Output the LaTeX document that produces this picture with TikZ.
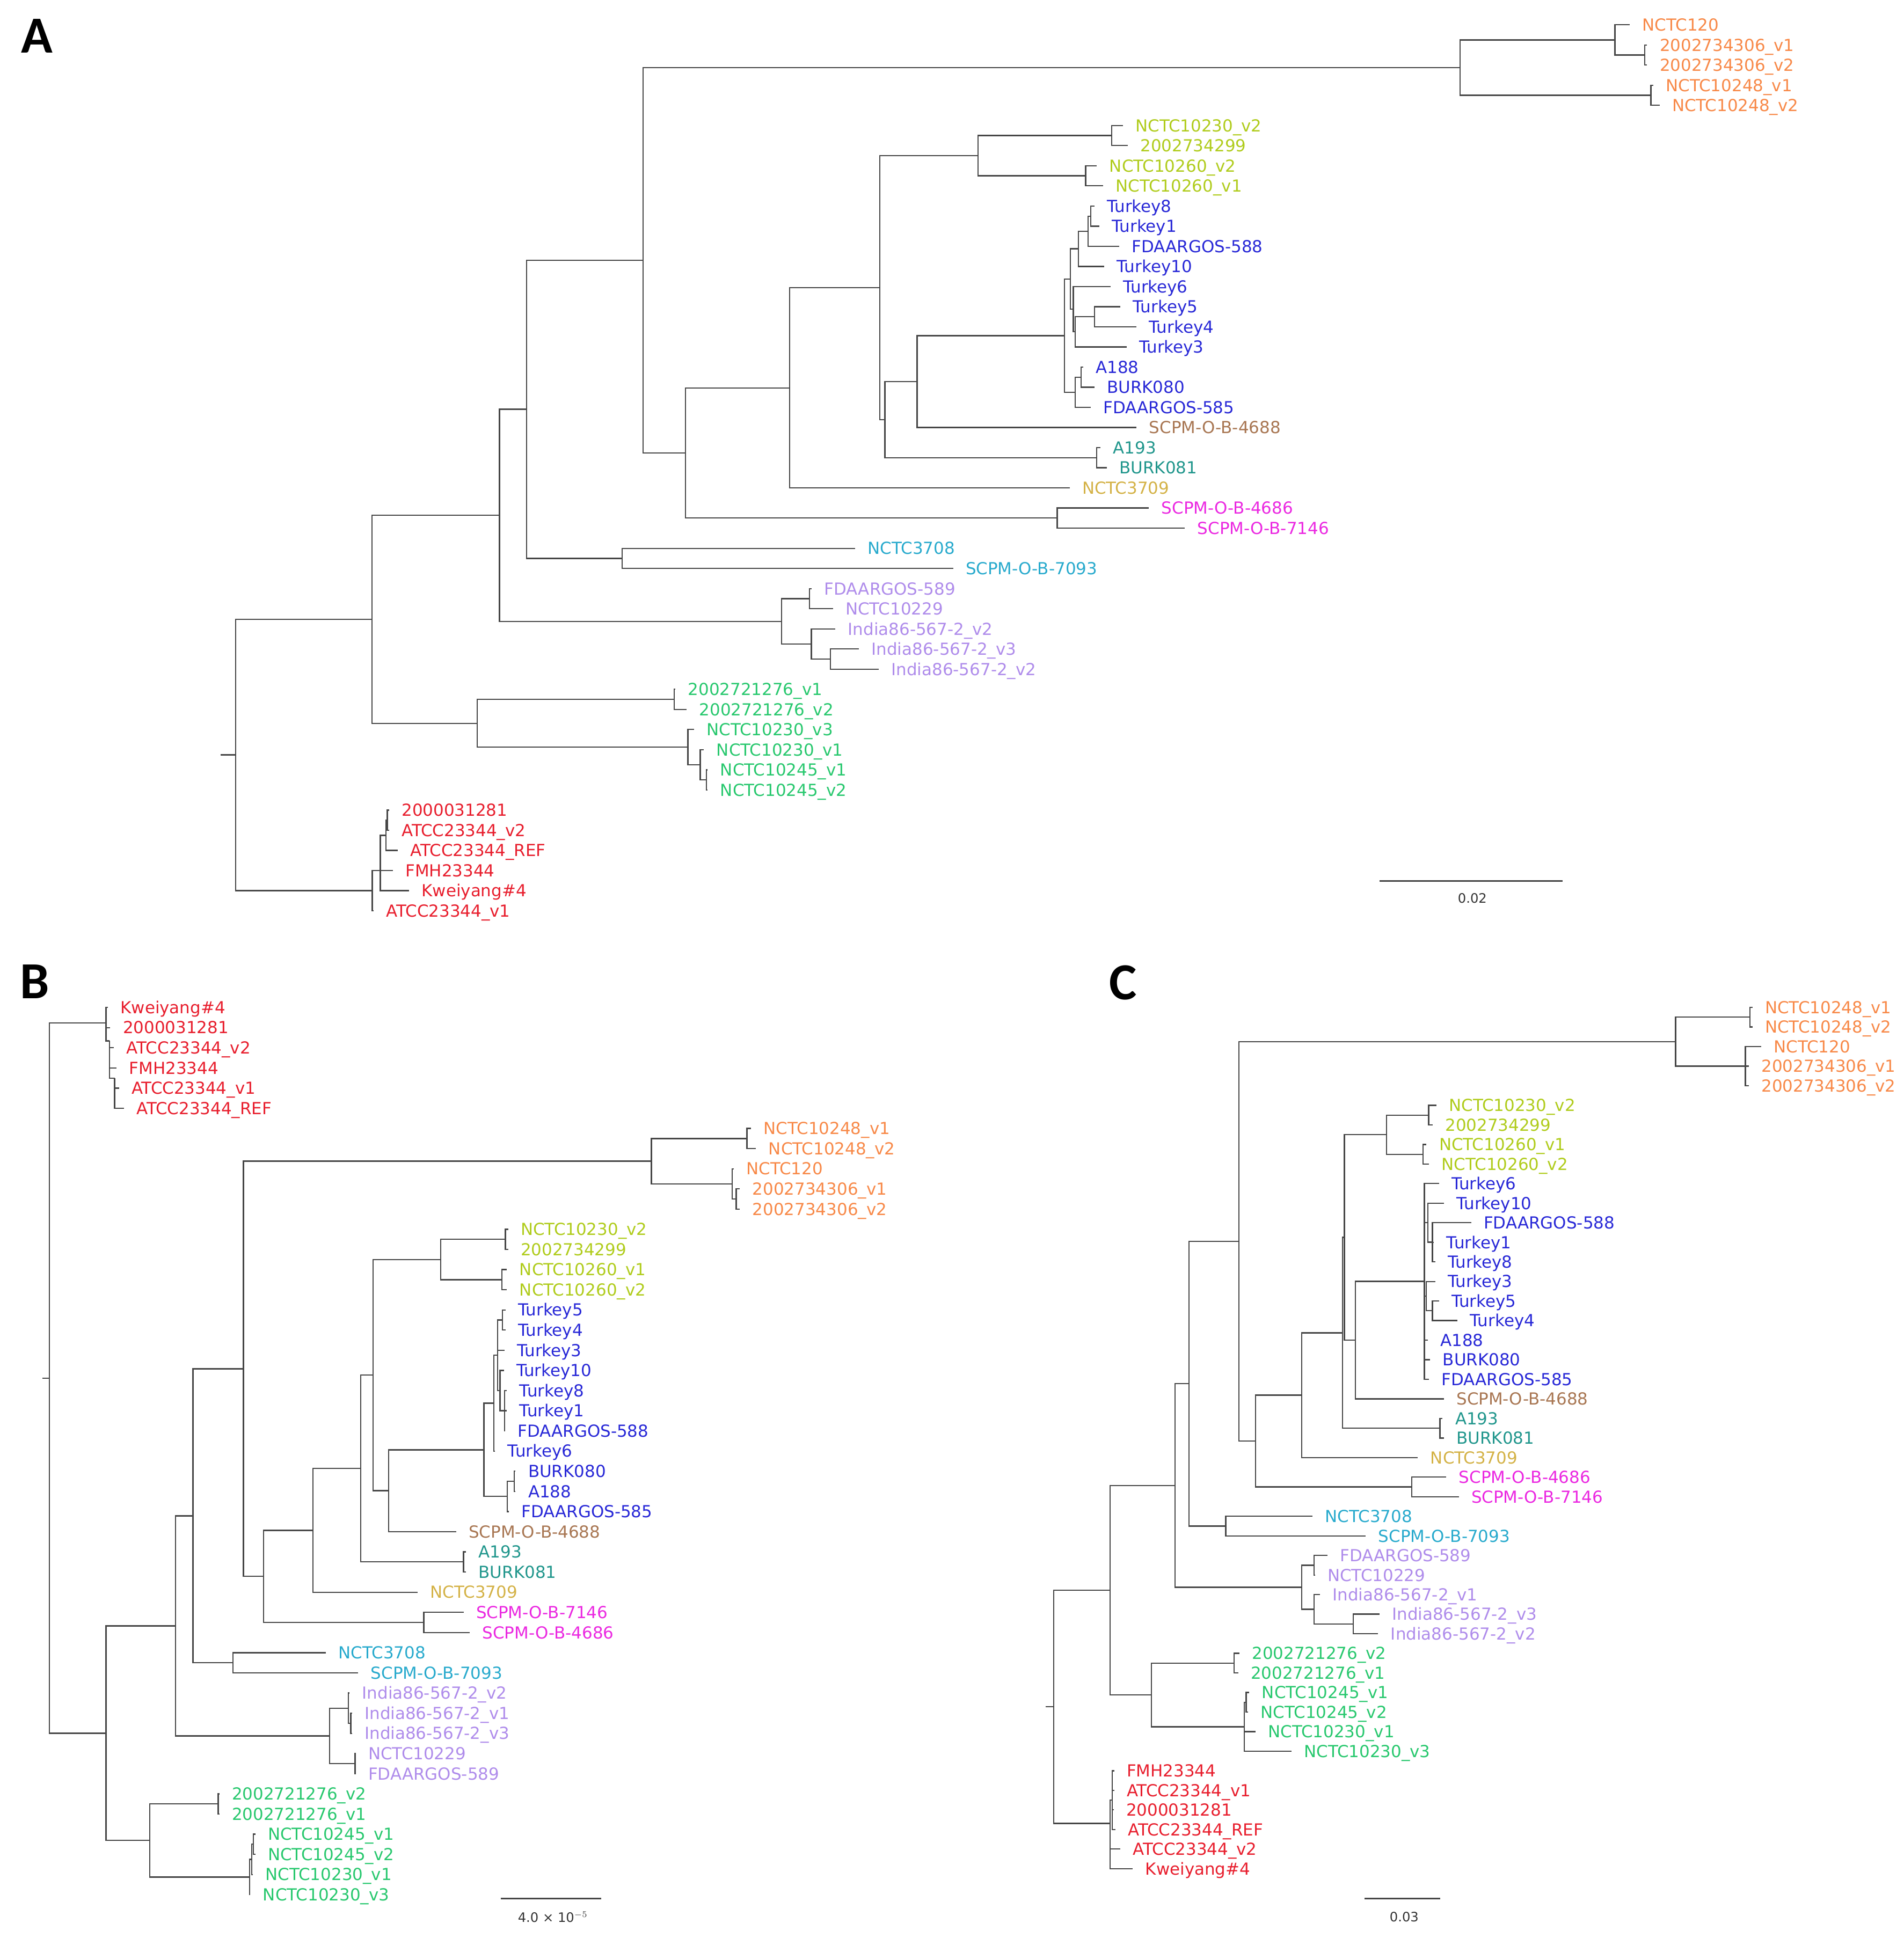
\documentclass[tikz,border=0pt]{standalone}
\usepackage{fontspec}
\setmainfont{DejaVu Sans}
\newfontfamily\panelfont{Carlito}

\definecolor{branchgray}{RGB}{70,70,70}
\definecolor{corange}{RGB}{248,137,72}
\definecolor{clime}{RGB}{176,204,28}
\definecolor{cblue}{RGB}{40,40,215}
\definecolor{cbrown}{RGB}{168,118,82}
\definecolor{cteal}{RGB}{32,150,140}
\definecolor{cgold}{RGB}{212,178,70}
\definecolor{cmagenta}{RGB}{235,40,225}
\definecolor{ccyan}{RGB}{40,170,205}
\definecolor{clav}{RGB}{175,140,235}
\definecolor{cgreen}{RGB}{40,200,110}
\definecolor{cred}{RGB}{232,30,45}

% tip coordinate + its label
\newcommand\leafat[5]{\coordinate (#1) at (#2,#3);
  \node[lab,text=#4] (#1l) at (#1) {#5};}
% elbow branches from a parent to its children
\newcommand\brto[2]{\foreach \ch in {#2}{\draw[branch] (#1) |- (\ch);}}

\begin{document}
\begin{tikzpicture}[x=1pt, y=-1pt,
    branch/.style={draw=branchgray, line width=1pt},
    lab/.style={anchor=base west, inner sep=0pt, xshift=10pt, yshift=-4.9pt, font=\fontsize{13.4}{16}\selectfont},
    panel/.style={font=\panelfont\bfseries\fontsize{42}{42}\selectfont, inner sep=0pt},
    sbar/.style={font=\fontsize{10.5}{12}\selectfont, inner sep=0pt, text=black!80}]
    \useasboundingbox[fill=white] (0,0) rectangle (1536,1564);

    % ---------------- A ----------------
    \node[panel] (pA) at (30,29) {A};
    \leafat{a1}{1315}{20}{corange}{NCTC120}
    \leafat{a2}{1329}{36.25}{corange}{2002734306\_v1}
    \leafat{a3}{1329}{52.5}{corange}{2002734306\_v2}
    \leafat{a4}{1334}{68.75}{corange}{NCTC10248\_v1}
    \leafat{a5}{1339}{85}{corange}{NCTC10248\_v2}
    \leafat{a6}{906}{101.25}{clime}{NCTC10230\_v2}
    \leafat{a7}{910}{117.5}{clime}{2002734299}
    \leafat{a8}{885}{133.75}{clime}{NCTC10260\_v2}
    \leafat{a9}{890}{150}{clime}{NCTC10260\_v1}
    \leafat{a10}{883}{166.25}{cblue}{Turkey8}
    \leafat{a11}{887}{182.5}{cblue}{Turkey1}
    \leafat{a12}{903}{198.75}{cblue}{FDAARGOS-588}
    \leafat{a13}{891}{215}{cblue}{Turkey10}
    \leafat{a14}{896}{231.25}{cblue}{Turkey6}
    \leafat{a15}{904}{247.5}{cblue}{Turkey5}
    \leafat{a16}{917}{263.75}{cblue}{Turkey4}
    \leafat{a17}{909}{280}{cblue}{Turkey3}
    \leafat{a18}{874}{296.25}{cblue}{A188}
    \leafat{a19}{883}{312.5}{cblue}{BURK080}
    \leafat{a20}{880}{328.75}{cblue}{FDAARGOS-585}
    \leafat{a21}{917}{345}{cbrown}{SCPM-O-B-4688}
    \leafat{a22}{888}{361.25}{cteal}{A193}
    \leafat{a23}{893}{377.5}{cteal}{BURK081}
    \leafat{a24}{863}{393.75}{cgold}{NCTC3709}
    \leafat{a25}{927}{410}{cmagenta}{SCPM-O-B-4686}
    \leafat{a26}{956}{426.25}{cmagenta}{SCPM-O-B-7146}
    \leafat{a27}{690}{442.5}{ccyan}{NCTC3708}
    \leafat{a28}{769}{458.75}{ccyan}{SCPM-O-B-7093}
    \leafat{a29}{655}{475}{clav}{FDAARGOS-589}
    \leafat{a30}{672}{491.25}{clav}{NCTC10229}
    \leafat{a31}{674}{507.5}{clav}{India86-567-2\_v2}
    \leafat{a32}{693}{523.75}{clav}{India86-567-2\_v3}
    \leafat{a33}{709}{540}{clav}{India86-567-2\_v2}
    \leafat{a34}{545}{556.25}{cgreen}{2002721276\_v1}
    \leafat{a35}{554}{572.5}{cgreen}{2002721276\_v2}
    \leafat{a36}{560}{588.75}{cgreen}{NCTC10230\_v3}
    \leafat{a37}{568}{605}{cgreen}{NCTC10230\_v1}
    \leafat{a38}{571}{621.25}{cgreen}{NCTC10245\_v1}
    \leafat{a39}{571}{637.5}{cgreen}{NCTC10245\_v2}
    \leafat{a40}{314}{653.75}{cred}{2000031281}
    \leafat{a41}{314}{670}{cred}{ATCC23344\_v2}
    \leafat{a42}{321}{686.25}{cred}{ATCC23344\_REF}
    \leafat{a43}{317}{702.5}{cred}{FMH23344}
    \leafat{a44}{330}{718.75}{cred}{Kweiyang\#4}
    \leafat{a45}{301.5}{735}{cred}{ATCC23344\_v1}

    \coordinate (aOr3) at (1327,44.4);   \coordinate (aOr1) at (1303,32.2);
    \coordinate (aOr2) at (1332,76.9);   \coordinate (aOr) at (1178,54.5);
    \coordinate (aY1) at (897,109.4);    \coordinate (aY2) at (876,141.9);
    \coordinate (aY) at (789,125.6);
    \coordinate (aB6) at (880,174.4);    \coordinate (aB5) at (878,186.6);
    \coordinate (aB3) at (870,200.8);    \coordinate (aB8) at (883,255.6);
    \coordinate (aB7) at (867.6,267.8);  \coordinate (aB4) at (866,249.5);
    \coordinate (aB1) at (863.5,225.2);  \coordinate (aB9) at (872.4,304.4);
    \coordinate (aB2) at (867.6,316.6);  \coordinate (aB) at (859,270.9);
    \coordinate (aT) at (885,369.4);     \coordinate (aN10) at (740,307.9);
    \coordinate (aN9) at (714,338.7);    \coordinate (aN8) at (710,232.1);
    \coordinate (aN7) at (637,313);      \coordinate (aM) at (853,418.1);
    \coordinate (aN6) at (553,365.5);    \coordinate (aN5) at (519,210);
    \coordinate (aC) at (502,450.6);     \coordinate (aN4) at (425,330.3);
    \coordinate (aL1) at (653,483.1);    \coordinate (aL3) at (670,531.9);
    \coordinate (aL2) at (654.6,519.7);  \coordinate (aL) at (630.6,501.4);
    \coordinate (aN3) at (403,415.9);
    \coordinate (aG1) at (544,564.4);    \coordinate (aG4) at (570,629.4);
    \coordinate (aG3) at (565,617.2);    \coordinate (aG2) at (555,603);
    \coordinate (aG) at (385,583.7);     \coordinate (aN2) at (300,499.8);
    \coordinate (aR4) at (312.5,661.9);  \coordinate (aR3) at (311.5,674.1);
    \coordinate (aR2) at (306.8,702.4);  \coordinate (aR) at (300.3,718.7);
    \coordinate (aN1) at (190,609.2);    \coordinate (aN0) at (178,609.2);

    \brto{aOr3}{a2,a3}  \brto{aOr1}{a1,aOr3}  \brto{aOr2}{a4,a5}  \brto{aOr}{aOr1,aOr2}
    \brto{aY1}{a6,a7}  \brto{aY2}{a8,a9}  \brto{aY}{aY1,aY2}
    \brto{aB6}{a10,a11}  \brto{aB5}{aB6,a12}  \brto{aB3}{aB5,a13}
    \brto{aB8}{a15,a16}  \brto{aB7}{aB8,a17}  \brto{aB4}{a14,aB7}  \brto{aB1}{aB3,aB4}
    \brto{aB9}{a18,a19}  \brto{aB2}{aB9,a20}  \brto{aB}{aB1,aB2}
    \brto{aT}{a22,a23}  \brto{aN10}{aB,a21}  \brto{aN9}{aN10,aT}  \brto{aN8}{aY,aN9}
    \brto{aN7}{aN8,a24}  \brto{aM}{a25,a26}  \brto{aN6}{aN7,aM}  \brto{aN5}{aOr,aN6}
    \brto{aC}{a27,a28}  \brto{aN4}{aN5,aC}
    \brto{aL1}{a29,a30}  \brto{aL3}{a32,a33}  \brto{aL2}{a31,aL3}  \brto{aL}{aL1,aL2}
    \brto{aN3}{aN4,aL}
    \brto{aG1}{a34,a35}  \brto{aG4}{a38,a39}  \brto{aG3}{a37,aG4}  \brto{aG2}{a36,aG3}
    \brto{aG}{aG1,aG2}  \brto{aN2}{aN3,aG}
    \brto{aR4}{a40,a41}  \brto{aR3}{aR4,a42}  \brto{aR2}{aR3,a43,a44}  \brto{aR}{aR2,a45}
    \brto{aN1}{aN2,aR}
    \draw[branch] (aN0) -- (aN1);

    \coordinate (asb1) at (1113,711);  \coordinate (asb2) at (1261,711);
    \draw[branch, line width=1.3pt] (asb1) -- (asb2);
    \node[sbar] (asbl) at (1188,725) {0.02};

    % ---------------- B ----------------
    \node[panel] (pB) at (28,792) {B};
    \leafat{b1}{87}{813}{cred}{Kweiyang\#4}
    \leafat{b2}{89}{829.27}{cred}{2000031281}
    \leafat{b3}{92}{845.55}{cred}{ATCC23344\_v2}
    \leafat{b4}{94}{861.82}{cred}{FMH23344}
    \leafat{b5}{96}{878.09}{cred}{ATCC23344\_v1}
    \leafat{b6}{100}{894.36}{cred}{ATCC23344\_REF}
    \leafat{b7}{606}{910.64}{corange}{NCTC10248\_v1}
    \leafat{b8}{610}{926.91}{corange}{NCTC10248\_v2}
    \leafat{b9}{592}{943.18}{corange}{NCTC120}
    \leafat{b10}{597}{959.45}{corange}{2002734306\_v1}
    \leafat{b11}{597}{975.73}{corange}{2002734306\_v2}
    \leafat{b12}{410}{992}{clime}{NCTC10230\_v2}
    \leafat{b13}{410}{1008.27}{clime}{2002734299}
    \leafat{b14}{409}{1024.55}{clime}{NCTC10260\_v1}
    \leafat{b15}{409}{1040.82}{clime}{NCTC10260\_v2}
    \leafat{b16}{408}{1057.09}{cblue}{Turkey5}
    \leafat{b17}{408}{1073.36}{cblue}{Turkey4}
    \leafat{b18}{407}{1089.64}{cblue}{Turkey3}
    \leafat{b19}{406.5}{1105.91}{cblue}{Turkey10}
    \leafat{b20}{409}{1122.18}{cblue}{Turkey8}
    \leafat{b21}{409}{1138.45}{cblue}{Turkey1}
    \leafat{b22}{407.5}{1154.73}{cblue}{FDAARGOS-588}
    \leafat{b23}{399.5}{1171}{cblue}{Turkey6}
    \leafat{b24}{416}{1187.27}{cblue}{BURK080}
    \leafat{b25}{416}{1203.55}{cblue}{A188}
    \leafat{b26}{410.5}{1219.82}{cblue}{FDAARGOS-585}
    \leafat{b27}{368}{1236.09}{cbrown}{SCPM-O-B-4688}
    \leafat{b28}{376}{1252.36}{cteal}{A193}
    \leafat{b29}{376}{1268.64}{cteal}{BURK081}
    \leafat{b30}{337}{1284.91}{cgold}{NCTC3709}
    \leafat{b31}{374}{1301.18}{cmagenta}{SCPM-O-B-7146}
    \leafat{b32}{379}{1317.45}{cmagenta}{SCPM-O-B-4686}
    \leafat{b33}{263}{1333.73}{ccyan}{NCTC3708}
    \leafat{b34}{289}{1350}{ccyan}{SCPM-O-B-7093}
    \leafat{b35}{282}{1366.27}{clav}{India86-567-2\_v2}
    \leafat{b36}{284}{1382.55}{clav}{India86-567-2\_v1}
    \leafat{b37}{284}{1398.82}{clav}{India86-567-2\_v3}
    \leafat{b38}{287}{1415.09}{clav}{NCTC10229}
    \leafat{b39}{287}{1431.36}{clav}{FDAARGOS-589}
    \leafat{b40}{177}{1447.64}{cgreen}{2002721276\_v2}
    \leafat{b41}{177}{1463.91}{cgreen}{2002721276\_v1}
    \leafat{b42}{206}{1480.18}{cgreen}{NCTC10245\_v1}
    \leafat{b43}{206}{1496.45}{cgreen}{NCTC10245\_v2}
    \leafat{b44}{204}{1512.73}{cgreen}{NCTC10230\_v1}
    \leafat{b45}{202}{1529}{cgreen}{NCTC10230\_v3}

    \coordinate (bR1) at (85.5,825.6);   \coordinate (bR2) at (88.5,840);
    \coordinate (bR3) at (92.5,870);
    \coordinate (bOr1) at (602.7,918.8); \coordinate (bOr3) at (594,967.6);
    \coordinate (bOr2) at (590.8,955.4); \coordinate (bOr) at (525.6,937.1);
    \coordinate (bY1) at (407.8,1000.1); \coordinate (bY2) at (405,1032.7);
    \coordinate (bY) at (355.6,1016.4);
    \coordinate (bB3) at (405.4,1065.2); \coordinate (bB7) at (407,1138.5);
    \coordinate (bB4) at (403.5,1122.2); \coordinate (bB2) at (401.4,1093.7);
    \coordinate (bB1) at (398.5,1132.4); \coordinate (bB6) at (415,1195.4);
    \coordinate (bB5) at (409.3,1207.6); \coordinate (bB) at (390.4,1170);
    \coordinate (bT) at (374,1260.5);    \coordinate (bM) at (342,1309.3);
    \coordinate (bC) at (188,1341.9);
    \coordinate (bL3) at (283,1390.7);   \coordinate (bL1) at (281,1378.5);
    \coordinate (bL2) at (286.5,1423.2); \coordinate (bL) at (266,1400.9);
    \coordinate (bG1) at (176,1455.8);   \coordinate (bG3) at (204.5,1488.3);
    \coordinate (bG5) at (203,1500.5);   \coordinate (bG2) at (201.4,1514.8);
    \coordinate (bG) at (120.8,1485.3);
    \coordinate (bN9) at (313.5,1203);   \coordinate (bN8) at (301,1109.7);
    \coordinate (bN7) at (291,1185.1);   \coordinate (bN6) at (252.6,1235);
    \coordinate (bN5) at (212.8,1272.2); \coordinate (bN4) at (196.4,1104.6);
    \coordinate (bN3) at (155.7,1223.3); \coordinate (bN2) at (141.7,1312.1);
    \coordinate (bN1) at (85.5,1398.7);  \coordinate (bN0) at (39.8,1112.2);
    \coordinate (bS) at (34,1112.2);

    \brto{bR3}{b5,b6}  \brto{bR2}{b3,b4,bR3}  \brto{bR1}{b1,b2,bR2}
    \brto{bOr1}{b7,b8}  \brto{bOr3}{b10,b11}  \brto{bOr2}{b9,bOr3}  \brto{bOr}{bOr1,bOr2}
    \brto{bY1}{b12,b13}  \brto{bY2}{b14,b15}  \brto{bY}{bY1,bY2}
    \brto{bB3}{b16,b17}  \brto{bB7}{b20,b21,b22}  \brto{bB4}{b19,bB7}
    \brto{bB2}{bB3,b18,bB4}  \brto{bB1}{bB2,b23}
    \brto{bB6}{b24,b25}  \brto{bB5}{bB6,b26}  \brto{bB}{bB1,bB5}
    \brto{bT}{b28,b29}  \brto{bM}{b31,b32}  \brto{bC}{b33,b34}
    \brto{bL3}{b36,b37}  \brto{bL1}{b35,bL3}  \brto{bL2}{b38,b39}  \brto{bL}{bL1,bL2}
    \brto{bG1}{b40,b41}  \brto{bG3}{b42,b43}  \brto{bG5}{bG3,b44}  \brto{bG2}{bG5,b45}
    \brto{bG}{bG1,bG2}
    \brto{bN9}{bB,b27}  \brto{bN8}{bY,bN9}  \brto{bN7}{bN8,bT}  \brto{bN6}{bN7,b30}
    \brto{bN5}{bN6,bM}  \brto{bN4}{bOr,bN5}  \brto{bN3}{bN4,bC}  \brto{bN2}{bN3,bL}
    \brto{bN1}{bN2,bG}  \brto{bN0}{bR1,bN1}
    \draw[branch] (bS) -- (bN0);

    \coordinate (bsb1) at (404,1532);  \coordinate (bsb2) at (485,1532);
    \draw[branch, line width=1.3pt] (bsb1) -- (bsb2);
    \node[sbar] (bsbl) at (446,1547) {4.0 × 10$^{-5}$};

    % ---------------- C ----------------
    \node[panel] (pC) at (906,793) {C};
    \leafat{c1}{1414}{813}{corange}{NCTC10248\_v1}
    \leafat{c2}{1414}{828.8}{corange}{NCTC10248\_v2}
    \leafat{c3}{1421}{844.59}{corange}{NCTC120}
    \leafat{c4}{1411}{860.39}{corange}{2002734306\_v1}
    \leafat{c5}{1411}{876.18}{corange}{2002734306\_v2}
    \leafat{c6}{1159}{891.98}{clime}{NCTC10230\_v2}
    \leafat{c7}{1156}{907.77}{clime}{2002734299}
    \leafat{c8}{1151}{923.57}{clime}{NCTC10260\_v1}
    \leafat{c9}{1153}{939.36}{clime}{NCTC10260\_v2}
    \leafat{c10}{1161}{955.16}{cblue}{Turkey6}
    \leafat{c11}{1165}{970.95}{cblue}{Turkey10}
    \leafat{c12}{1187}{986.75}{cblue}{FDAARGOS-588}
    \leafat{c13}{1157}{1002.54}{cblue}{Turkey1}
    \leafat{c14}{1158}{1018.34}{cblue}{Turkey8}
    \leafat{c15}{1158}{1034.13}{cblue}{Turkey3}
    \leafat{c16}{1161}{1049.93}{cblue}{Turkey5}
    \leafat{c17}{1176}{1065.72}{cblue}{Turkey4}
    \leafat{c18}{1152}{1081.52}{cblue}{A188}
    \leafat{c19}{1154}{1097.31}{cblue}{BURK080}
    \leafat{c20}{1153}{1113.11}{cblue}{FDAARGOS-585}
    \leafat{c21}{1165}{1128.9}{cbrown}{SCPM-O-B-4688}
    \leafat{c22}{1164}{1144.7}{cteal}{A193}
    \leafat{c23}{1165}{1160.49}{cteal}{BURK081}
    \leafat{c24}{1144}{1176.29}{cgold}{NCTC3709}
    \leafat{c25}{1167}{1192.08}{cmagenta}{SCPM-O-B-4686}
    \leafat{c26}{1177}{1207.88}{cmagenta}{SCPM-O-B-7146}
    \leafat{c27}{1059}{1223.67}{ccyan}{NCTC3708}
    \leafat{c28}{1102}{1239.47}{ccyan}{SCPM-O-B-7093}
    \leafat{c29}{1071}{1255.26}{clav}{FDAARGOS-589}
    \leafat{c30}{1061}{1271.06}{clav}{NCTC10229}
    \leafat{c31}{1065}{1286.85}{clav}{India86-567-2\_v1}
    \leafat{c32}{1113}{1302.65}{clav}{India86-567-2\_v3}
    \leafat{c33}{1112}{1318.44}{clav}{India86-567-2\_v2}
    \leafat{c34}{1000}{1334.24}{cgreen}{2002721276\_v2}
    \leafat{c35}{999}{1350.03}{cgreen}{2002721276\_v1}
    \leafat{c36}{1008}{1365.83}{cgreen}{NCTC10245\_v1}
    \leafat{c37}{1007}{1381.62}{cgreen}{NCTC10245\_v2}
    \leafat{c38}{1013}{1397.42}{cgreen}{NCTC10230\_v1}
    \leafat{c39}{1042}{1413.21}{cgreen}{NCTC10230\_v3}
    \leafat{c40}{899}{1429.01}{cred}{FMH23344}
    \leafat{c41}{899}{1444.8}{cred}{ATCC23344\_v1}
    \leafat{c42}{898.5}{1460.6}{cred}{2000031281}
    \leafat{c43}{900}{1476.39}{cred}{ATCC23344\_REF}
    \leafat{c44}{904}{1492.19}{cred}{ATCC23344\_v2}
    \leafat{c45}{914}{1508}{cred}{Kweiyang\#4}

    \coordinate (cOr1) at (1411.9,820.9); \coordinate (cOr2) at (1408.3,860.4);
    \coordinate (cOr) at (1352,840.7);
    \coordinate (cY1) at (1152.7,899.9);  \coordinate (cY2) at (1148.2,931.5);
    \coordinate (cY) at (1118.6,915.7);
    \coordinate (cB2) at (1155.8,1002.5); \coordinate (cB1) at (1152.2,986.7);
    \coordinate (cB4) at (1155.8,1057.8); \coordinate (cB3) at (1150.8,1046);
    \coordinate (cB) at (1149.3,1034.1);
    \coordinate (cT) at (1161.8,1152.6);  \coordinate (cM) at (1139,1200);
    \coordinate (cC) at (989,1231.6);
    \coordinate (cL1) at (1060.4,1263.2); \coordinate (cL3) at (1092,1310.5);
    \coordinate (cL2) at (1060.4,1298.7); \coordinate (cL) at (1050.4,1281);
    \coordinate (cG1) at (995.8,1342.1);  \coordinate (cG3) at (1005.5,1373.7);
    \coordinate (cG2) at (1004,1393.5);   \coordinate (cG) at (929,1367.8);
    \coordinate (cR2) at (897.5,1452.7);  \coordinate (cR1) at (895.8,1471.5);
    \coordinate (cN9) at (1093.6,1081.5); \coordinate (cN8b) at (1084.8,998.6);
    \coordinate (cN8) at (1083.1,1075.6); \coordinate (cN7) at (1050.4,1125.9);
    \coordinate (cN6) at (1013,1163);     \coordinate (cN5) at (999.5,1001.8);
    \coordinate (cN4) at (959.4,1116.7);  \coordinate (cN3) at (948,1198.8);
    \coordinate (cN2) at (895.8,1283.3);  \coordinate (cN0) at (850.3,1377.4);
    \coordinate (cS) at (843.5,1377.4);

    \brto{cOr1}{c1,c2}  \brto{cOr2}{c3,c4,c5}  \brto{cOr}{cOr1,cOr2}
    \brto{cY1}{c6,c7}  \brto{cY2}{c8,c9}  \brto{cY}{cY1,cY2}
    \brto{cB2}{c12,c13,c14}  \brto{cB1}{c11,cB2}  \brto{cB4}{c16,c17}  \brto{cB3}{c15,cB4}
    \brto{cB}{c10,cB1,cB3,c18,c19,c20}
    \brto{cT}{c22,c23}  \brto{cM}{c25,c26}  \brto{cC}{c27,c28}
    \brto{cL1}{c29,c30}  \brto{cL3}{c32,c33}  \brto{cL2}{c31,cL3}  \brto{cL}{cL1,cL2}
    \brto{cG1}{c34,c35}  \brto{cG3}{c36,c37}  \brto{cG2}{cG3,c38,c39}  \brto{cG}{cG1,cG2}
    \brto{cR2}{c40,c41,c42,c43}  \brto{cR1}{cR2,c44,c45}
    \brto{cN9}{cB,c21}  \brto{cN8b}{cY,cN9}  \brto{cN8}{cN8b,cT}  \brto{cN7}{cN8,c24}
    \brto{cN6}{cN7,cM}  \brto{cN5}{cOr,cN6}  \brto{cN4}{cN5,cC}  \brto{cN3}{cN4,cL}
    \brto{cN2}{cN3,cG}  \brto{cN0}{cN2,cR1}
    \draw[branch] (cS) -- (cN0);

    \coordinate (csb1) at (1101,1532);  \coordinate (csb2) at (1162,1532);
    \draw[branch, line width=1.3pt] (csb1) -- (csb2);
    \node[sbar] (csbl) at (1133,1547) {0.03};
\end{tikzpicture}
\end{document}
